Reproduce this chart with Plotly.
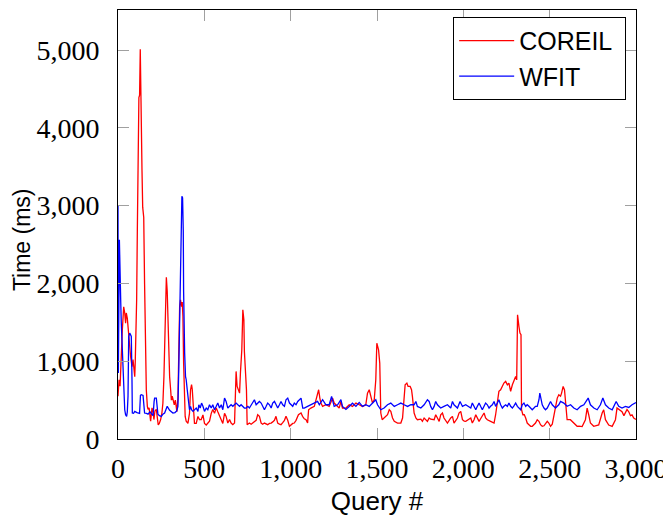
import plotly.graph_objects as go

# ---- data (query #, time in ms) ----
coreil_q = [0, 6, 12, 16, 19, 25, 33, 39, 44, 48, 54, 62, 68, 73, 81, 87, 93, 97, 100, 104,
            108, 112, 116, 121, 125, 129, 133, 135, 139, 143, 149, 154, 158, 164, 170, 174, 180, 185, 189, 197,
            203, 208, 214, 222, 228, 233, 239, 247, 254, 260, 266, 270, 274, 280, 285, 289, 295, 299, 305, 309,
            314, 318, 326, 332, 337, 341, 347, 353, 357, 362, 368, 372, 376, 380, 386, 389, 395, 405, 414, 420,
            426, 430, 434, 438, 443, 453, 463, 472, 482, 492, 501, 511, 520, 530, 540, 549, 559, 569, 578, 588,
            598, 607, 617, 626, 636, 646, 655, 665, 675, 680, 684, 690, 698, 704, 709, 717, 723, 729, 732, 738,
            744, 748, 761, 771, 781, 790, 800, 809, 819, 829, 838, 848, 858, 867, 877, 887, 896, 906, 915, 925,
            935, 944, 954, 964, 973, 983, 993, 1002, 1012, 1021, 1031, 1045, 1060, 1069, 1079, 1089, 1098, 1104, 1117, 1137,
            1146, 1156, 1162, 1169, 1175, 1185, 1204, 1223, 1243, 1252, 1262, 1281, 1291, 1300, 1320, 1339, 1358, 1378, 1397, 1416,
            1435, 1445, 1455, 1464, 1474, 1484, 1493, 1499, 1509, 1516, 1522, 1530, 1541, 1551, 1561, 1571, 1580, 1590, 1600, 1619,
            1638, 1648, 1657, 1663, 1673, 1680, 1692, 1700, 1705, 1715, 1725, 1734, 1754, 1763, 1773, 1782, 1792, 1802, 1811, 1831,
            1840, 1850, 1860, 1869, 1879, 1888, 1898, 1908, 1927, 1937, 1946, 1956, 1966, 1975, 1985, 1995, 2005, 2014, 2024, 2033,
            2043, 2052, 2062, 2072, 2081, 2091, 2100, 2110, 2120, 2129, 2139, 2158, 2168, 2178, 2187, 2197, 2206, 2216, 2226, 2235,
            2245, 2255, 2264, 2274, 2284, 2293, 2303, 2309, 2314, 2322, 2328, 2334, 2337, 2345, 2353, 2361, 2370, 2380, 2390, 2399,
            2409, 2418, 2428, 2438, 2447, 2457, 2467, 2476, 2486, 2495, 2505, 2515, 2524, 2534, 2544, 2553, 2563, 2569, 2578, 2586,
            2592, 2601, 2620, 2640, 2659, 2670, 2688, 2707, 2717, 2726, 2736, 2755, 2770, 2784, 2804, 2813, 2823, 2842, 2862, 2881,
            2890, 2900, 2910, 2919, 2930, 2938, 2948, 2958, 2968, 2977, 2987, 3000]
coreil_ms = [550, 760, 680, 930, 1190, 1400, 1700, 1620, 1490, 1620, 1550, 1320, 1190, 1060, 930, 1020, 890, 800, 1000, 1320,
             1790, 2680, 3910, 4390, 4420, 5010, 4390, 3750, 3450, 2980, 2850, 1990, 1190, 630, 420, 380, 400, 330, 230, 400,
             350, 250, 360, 380, 290, 180, 200, 250, 330, 460, 800, 1280, 1790, 2080, 1900, 1480, 950, 800, 630, 500,
             550, 520, 440, 500, 440, 350, 520, 1400, 1700, 1790, 1700, 1760, 1580, 980, 550, 290, 230, 200, 330, 630,
             700, 640, 500, 330, 200, 200, 290, 250, 250, 310, 200, 180, 200, 230, 330, 380, 330, 400, 350, 290,
             250, 200, 330, 290, 205, 250, 205, 184, 205, 505, 869, 676, 633, 590, 847, 1147, 1660, 1532, 1125, 933,
             633, 184, 205, 190, 205, 220, 240, 312, 291, 205, 190, 205, 195, 184, 200, 205, 220, 240, 291, 205,
             190, 184, 210, 240, 291, 240, 163, 184, 200, 205, 240, 312, 334, 291, 260, 248, 205, 376, 398, 419,
             505, 590, 633, 526, 462, 419, 440, 419, 526, 462, 440, 398, 483, 398, 398, 440, 419, 462, 440, 419,
             440, 590, 633, 548, 462, 505, 762, 1232, 1147, 976, 334, 248, 270, 291, 312, 376, 355, 270, 227, 205,
             205, 270, 590, 697, 719, 676, 676, 633, 548, 334, 270, 248, 255, 227, 270, 248, 227, 270, 255, 248,
             312, 270, 227, 312, 334, 270, 227, 205, 270, 291, 205, 248, 270, 334, 355, 248, 230, 227, 240, 248,
             270, 205, 248, 312, 270, 227, 260, 291, 334, 270, 248, 227, 215, 205, 312, 462, 612, 633, 676, 719,
             740, 697, 719, 612, 697, 762, 804, 760, 1596, 1446, 1361, 1340, 376, 312, 312, 270, 205, 184, 163, 163,
             184, 205, 248, 227, 184, 163, 170, 205, 227, 205, 163, 190, 291, 420, 526, 569, 550, 590, 676, 630,
             420, 248, 248, 205, 163, 165, 160, 248, 398, 312, 205, 163, 170, 180, 334, 376, 248, 180, 163, 248,
             398, 380, 360, 350, 300, 334, 380, 350, 300, 310, 270, 250]

wfit_q = [0, 2, 8, 12, 16, 19, 23, 29, 35, 39, 44, 50, 54, 58, 62, 68, 73, 77, 81, 83,
          90, 97, 110, 125, 130, 135, 145, 150, 154, 165, 174, 185, 193, 203, 209, 212, 222, 226, 231, 240,
          251, 260, 270, 285, 299, 318, 330, 340, 347, 352, 357, 362, 366, 370, 374, 378, 380, 383, 386, 391,
          395, 401, 407, 414, 420, 426, 434, 443, 453, 463, 468, 476, 484, 492, 501, 511, 520, 530, 540, 549,
          559, 569, 578, 588, 598, 607, 617, 626, 636, 646, 655, 665, 675, 684, 694, 704, 713, 723, 732, 742,
          752, 761, 771, 781, 790, 800, 809, 819, 829, 838, 848, 858, 867, 877, 887, 896, 906, 916, 925, 935,
          944, 954, 964, 973, 983, 993, 1002, 1012, 1021, 1031, 1041, 1050, 1060, 1070, 1079, 1098, 1117, 1137, 1156, 1166,
          1185, 1204, 1223, 1237, 1243, 1252, 1272, 1291, 1300, 1320, 1339, 1358, 1378, 1397, 1416, 1435, 1455, 1484, 1493, 1503,
          1522, 1541, 1561, 1580, 1600, 1619, 1638, 1657, 1677, 1696, 1715, 1725, 1734, 1754, 1773, 1792, 1802, 1811, 1821, 1831,
          1840, 1850, 1869, 1888, 1908, 1927, 1937, 1946, 1966, 1981, 1995, 2014, 2033, 2043, 2052, 2062, 2072, 2081, 2091, 2100,
          2110, 2120, 2129, 2139, 2149, 2158, 2168, 2178, 2187, 2197, 2206, 2216, 2226, 2235, 2245, 2255, 2264, 2274, 2284, 2293,
          2303, 2313, 2322, 2332, 2341, 2351, 2361, 2370, 2380, 2390, 2399, 2409, 2418, 2428, 2438, 2443, 2447, 2457, 2467, 2476,
          2486, 2495, 2505, 2515, 2524, 2534, 2544, 2553, 2563, 2582, 2601, 2621, 2640, 2659, 2679, 2698, 2723, 2736, 2756, 2775,
          2794, 2808, 2823, 2842, 2862, 2885, 2900, 2919, 2939, 2958, 2977, 2993, 3000]
wfit_ms = [3000, 850, 2560, 1790, 1750, 1490, 1230, 890, 590, 376, 312, 291, 350, 548, 1318, 1361, 1340, 1318, 762, 334,
           330, 355, 340, 330, 560, 569, 560, 420, 334, 330, 320, 350, 320, 300, 480, 526, 526, 400, 320, 300,
           291, 320, 334, 420, 370, 334, 340, 360, 420, 900, 1410, 2300, 2740, 3120, 3100, 2675, 1900, 1200, 1104, 804,
           762, 633, 462, 376, 420, 376, 355, 376, 398, 355, 440, 398, 462, 420, 355, 398, 376, 440, 398, 440,
           376, 420, 462, 398, 440, 376, 526, 483, 398, 420, 440, 420, 440, 462, 440, 420, 440, 420, 398, 398,
           420, 398, 440, 462, 505, 440, 462, 483, 462, 420, 376, 420, 462, 440, 398, 462, 483, 440, 398, 440,
           483, 440, 420, 505, 526, 462, 440, 420, 462, 440, 483, 505, 526, 398, 398, 419, 440, 462, 483, 440,
           505, 440, 440, 548, 505, 419, 440, 505, 419, 380, 419, 460, 419, 470, 419, 440, 419, 483, 505, 440,
           376, 398, 440, 462, 419, 440, 462, 440, 419, 440, 440, 483, 419, 398, 440, 505, 483, 419, 376, 419,
           483, 440, 398, 419, 440, 398, 483, 440, 398, 483, 419, 440, 419, 398, 462, 420, 376, 420, 462, 420,
           376, 420, 462, 440, 398, 420, 440, 483, 420, 462, 505, 440, 398, 420, 440, 420, 462, 420, 398, 427,
           462, 420, 398, 376, 440, 462, 420, 440, 420, 398, 376, 398, 420, 420, 505, 590, 548, 440, 398, 376,
           398, 440, 483, 440, 420, 398, 420, 440, 483, 462, 420, 440, 398, 376, 420, 440, 526, 440, 398, 376,
           440, 526, 440, 398, 376, 483, 420, 398, 420, 406, 440, 462, 470]

x_ticks = [0, 500, 1000, 1500, 2000, 2500, 3000]
y_ticks = [0, 1000, 2000, 3000, 4000, 5000]

fig = go.Figure()
fig.add_trace(go.Scatter(x=coreil_q, y=coreil_ms, mode="lines", name="COREIL\u00a0",
                         line=dict(color="#ff0000", width=1.3)))
fig.add_trace(go.Scatter(x=wfit_q, y=wfit_ms, mode="lines", name="WFIT",
                         line=dict(color="#0000ff", width=1.3)))

tick_font = dict(family="Liberation Serif", size=28, color="black")
axis_common = dict(showgrid=False, zeroline=False, showline=True, linecolor="black", linewidth=1,
                   mirror="allticks", ticks="inside", ticklen=11, tickwidth=1, tickcolor="#a0a0a0",
                   tickfont=tick_font, tickformat=",d", automargin=False)

fig.update_xaxes(range=[0, 3000], tickvals=x_ticks, ticklabelstandoff=4,
                 title=dict(text="Query #", font=dict(family="Liberation Sans", size=26, color="black")),
                 **axis_common)
fig.update_yaxes(range=[0, 5515], tickvals=y_ticks, ticklabelstandoff=12, **axis_common)

# y-axis title placed as a rotated label, slightly below the axis middle as in the reference
fig.add_annotation(text="Time (ms)", textangle=-90, xref="paper", yref="paper",
                   x=-0.185, y=0.464, xanchor="center", yanchor="middle", showarrow=False,
                   font=dict(family="Liberation Sans", size=23, color="black"))

# the page body adds an 8px offset, so the figure is sized/margined to compensate
fig.update_layout(
    width=663, height=508, autosize=False,
    margin=dict(l=110, r=35, t=2, b=77),
    plot_bgcolor="white", paper_bgcolor="white",
    showlegend=True,
    legend=dict(x=0.981, y=0.984, xanchor="right", yanchor="top",
                bordercolor="black", borderwidth=1, bgcolor="white",
                font=dict(family="Liberation Sans", size=25, color="black"),
                itemwidth=55, tracegroupgap=0),
)

fig.write_html("out.html")
